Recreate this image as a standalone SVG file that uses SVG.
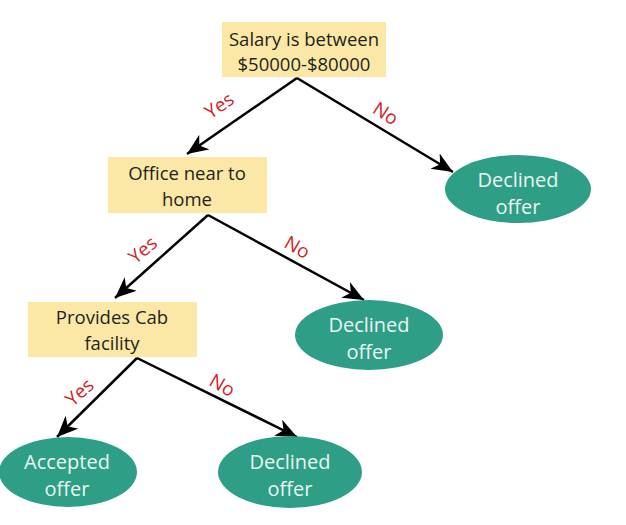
<svg xmlns="http://www.w3.org/2000/svg" width="626" height="525" viewBox="0 0 626 525">
<defs>
<style>
.box{fill:#FCE8A6;}
.leaf{fill:#2E9E86;}
.t{font-family:"Open Sans","Noto Sans",sans-serif;font-size:18.5px;fill:#231F20;text-anchor:middle;}
.lt{font-family:"Open Sans","Noto Sans",sans-serif;font-size:20px;fill:#E9F6F1;text-anchor:middle;}
.lbl{font-family:"Open Sans","Noto Sans",sans-serif;font-size:19px;fill:#D2232A;text-anchor:middle;}
.edge{stroke:#000;stroke-width:2.5;fill:none;marker-end:url(#arr);}
</style>
<marker id="arr" markerUnits="userSpaceOnUse" markerWidth="24" markerHeight="20" refX="21" refY="9" orient="auto">
<path d="M0,0 L21,9 L0,18 L6,9 z" fill="#000"/>
</marker>
</defs>
<g id="connectors">
<line class="edge" x1="297" y1="78" x2="187" y2="154"/>
<line class="edge" x1="297" y1="78" x2="453" y2="172"/>
<line class="edge" x1="208" y1="215" x2="115" y2="298"/>
<line class="edge" x1="208" y1="215" x2="364" y2="300"/>
<line class="edge" x1="137" y1="358" x2="57" y2="437"/>
<line class="edge" x1="137" y1="358" x2="297" y2="437"/>
<text class="lbl" transform="translate(223,111) rotate(-34)">Yes</text>
<text class="lbl" transform="translate(382,119) rotate(33)">No</text>
<text class="lbl" transform="translate(147,255) rotate(-40)">Yes</text>
<text class="lbl" transform="translate(294,253) rotate(30)">No</text>
<text class="lbl" transform="translate(84,397) rotate(-42)">Yes</text>
<text class="lbl" transform="translate(219,391) rotate(30)">No</text>
</g>
<g id="salary">
<rect class="box" x="222" y="22" width="164" height="55"/>
<text class="t" x="304" y="46">Salary is between</text>
<text class="t" x="304" y="71">$50000-$80000</text>
</g>
<g id="office">
<rect class="box" x="108" y="157" width="159" height="56"/>
<text class="t" x="187" y="180">Office near to</text>
<text class="t" x="187" y="206">home</text>
</g>
<g id="cab">
<rect class="box" x="28" y="302" width="169" height="55"/>
<text class="t" x="112" y="324">Provides Cab</text>
<text class="t" x="112" y="350">facility</text>
</g>
<g id="declined1">
<ellipse class="leaf" cx="518" cy="189" rx="73" ry="34"/>
<text class="lt" x="518" y="187">Declined</text>
<text class="lt" x="518" y="214">offer</text>
</g>
<g id="declined2">
<ellipse class="leaf" cx="369" cy="335" rx="74" ry="35"/>
<text class="lt" x="369" y="332">Declined</text>
<text class="lt" x="369" y="359">offer</text>
</g>
<g id="accepted">
<ellipse class="leaf" cx="68" cy="472" rx="69" ry="35"/>
<text class="lt" x="67" y="469">Accepted</text>
<text class="lt" x="67" y="496">offer</text>
</g>
<g id="declined3">
<ellipse class="leaf" cx="290" cy="472" rx="72" ry="36"/>
<text class="lt" x="290" y="469">Declined</text>
<text class="lt" x="290" y="496">offer</text>
</g>
</svg>
